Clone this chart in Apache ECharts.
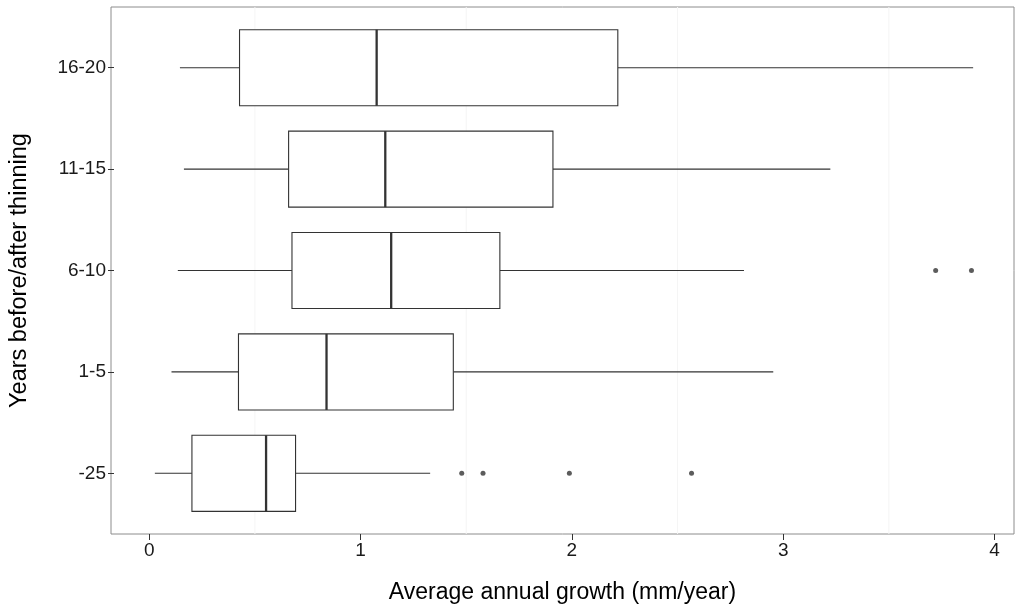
<!DOCTYPE html>
<html>
<head>
<meta charset="utf-8">
<title>Average annual growth</title>
<script src="https://cdn.jsdelivr.net/npm/echarts@6.0.0/dist/echarts.min.js"></script>
<style>
html,body{margin:0;padding:0;background:#fff;}
#main{width:1024px;height:609px;}
</style>
</head>
<body>
<div id="main"></div>
<script>
// values, bottom row first
var categories = ['-25', '1-5', '6-10', '11-15', '16-20'];
var whiskerLow = [0.013, 0.092, 0.122, 0.151, 0.132];
var q1 = [0.189, 0.410, 0.664, 0.648, 0.415];
var median = [0.541, 0.828, 1.135, 1.107, 1.066];
var q3 = [0.681, 1.430, 1.651, 1.903, 2.211];
var whiskerHigh = [1.320, 2.949, 2.810, 3.220, 3.898];

var outlierCats = ['-25', '-25', '-25', '-25', '6-10', '6-10'];
var outlierValues = [1.470, 1.571, 1.981, 2.561, 3.720, 3.890];

var xTicks = [0, 1, 2, 3, 4];
var minorGrid = [0.5, 1.5, 2.5, 3.5];

var xMin = -0.181, xMax = 4.092;

var boxData = [];
for (var i = 0; i < categories.length; i++) {
	boxData.push([i, whiskerLow[i], q1[i], median[i], q3[i], whiskerHigh[i]]);
}
var outData = [];
for (var j = 0; j < outlierValues.length; j++) {
	outData.push([outlierValues[j], outlierCats[j]]);
}

var lineCol = '#333333';
var font = '"Liberation Sans", Arial, sans-serif';

function drawBox(params, api) {
	var cat = api.value(0);
	var lo = api.coord([api.value(1), cat]);
	var a = api.coord([api.value(2), cat]);
	var md = api.coord([api.value(3), cat]);
	var b = api.coord([api.value(4), cat]);
	var hi = api.coord([api.value(5), cat]);
	var h = api.size([0, 1])[1] * 0.75;
	var y = lo[1];
	var st = {stroke: lineCol, lineWidth: 1.1};
	return {
		type: 'group',
		children: [
			{type: 'line', shape: {x1: lo[0], y1: y, x2: a[0], y2: y}, style: st},
			{type: 'line', shape: {x1: b[0], y1: y, x2: hi[0], y2: y}, style: st},
			{type: 'rect', shape: {x: a[0], y: y - h / 2, width: b[0] - a[0], height: h},
				style: {fill: '#fff', stroke: lineCol, lineWidth: 1.1}},
			{type: 'line', shape: {x1: md[0], y1: y - h / 2, x2: md[0], y2: y + h / 2},
				style: {stroke: lineCol, lineWidth: 2.3}}
		]
	};
}

function drawGrid(params, api) {
	var p0 = api.coord([api.value(0), 0]);
	var p1 = api.coord([api.value(0), 1]);
	return {type: 'line', shape: {x1: p0[0], y1: p0[1], x2: p1[0], y2: p1[1]},
		style: {stroke: '#f5f5f5', lineWidth: 1}};
}

var myChart = echarts.init(document.getElementById('main'));
var option = {
	animation: false,
	backgroundColor: '#fff',
	grid: [
		{left: 111, right: 10, top: 7, bottom: 75, show: true, borderColor: '#8c8c8c', borderWidth: 1, backgroundColor: '#fff'},
		{left: 111, right: 10, top: 17, bottom: 85}
	],
	xAxis: [
		{
			type: 'value', gridIndex: 0, min: xMin, max: xMax,
			name: 'Average annual growth (mm/year)', nameLocation: 'middle', nameGap: 47,
			nameTextStyle: {fontFamily: font, fontSize: 23, color: '#000'},
			axisLine: {show: false, onZero: false},
			axisTick: {show: true, length: 6, lineStyle: {color: lineCol, width: 1}, customValues: xTicks},
			axisLabel: {fontFamily: font, fontSize: 19, color: '#1a1a1a', margin: 7, customValues: xTicks},
			splitLine: {show: false}
		},
		{type: 'value', gridIndex: 1, min: xMin, max: xMax, show: false, axisLine: {onZero: false}}
	],
	yAxis: [
		{type: 'value', gridIndex: 0, min: 0, max: 1, show: false, axisLine: {onZero: false}},
		{
			type: 'category', gridIndex: 1, data: categories,
			name: 'Years before/after thinning', nameLocation: 'middle', nameGap: 82, nameRotate: 90,
			nameTextStyle: {fontFamily: font, fontSize: 23.5, color: '#000'},
			axisLine: {show: false, onZero: false},
			axisTick: {show: true, alignWithLabel: true, length: 6, lineStyle: {color: lineCol, width: 1}},
			axisLabel: {fontFamily: font, fontSize: 19, color: '#1a1a1a', margin: 8},
			splitLine: {show: false}
		}
	],
	series: [
		{
			type: 'custom', xAxisIndex: 0, yAxisIndex: 0, z: 1, silent: true,
			renderItem: drawGrid,
			data: minorGrid.map(function (v) { return [v]; }),
			encode: {x: 0}
		},
		{
			type: 'custom', xAxisIndex: 1, yAxisIndex: 1, z: 3,
			renderItem: drawBox,
			data: boxData,
			encode: {x: [1, 2, 3, 4, 5], y: 0}
		},
		{
			type: 'scatter', xAxisIndex: 1, yAxisIndex: 1, z: 4,
			symbol: 'circle', symbolSize: 5,
			itemStyle: {color: lineCol},
			data: outData
		}
	]
};
myChart.setOption(option);
</script>
</body>
</html>
